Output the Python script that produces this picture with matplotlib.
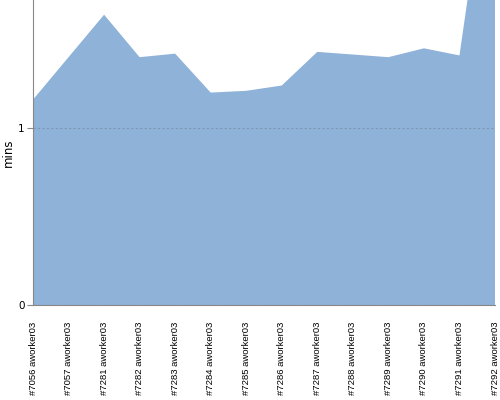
import matplotlib
matplotlib.use("Agg")
import matplotlib.pyplot as plt
import numpy as np

builds = ["#7056 aworker03", "#7057 aworker03", "#7281 aworker03", "#7282 aworker03",
          "#7283 aworker03", "#7284 aworker03", "#7285 aworker03", "#7286 aworker03",
          "#7287 aworker03", "#7288 aworker03", "#7289 aworker03", "#7290 aworker03",
          "#7291 aworker03", "#7292 aworker03"]
mins = [1.16, 1.40, 1.64, 1.40, 1.42, 1.20, 1.21, 1.24,
        1.43, 1.415, 1.40, 1.45, 1.41, 2.8]

fig = plt.figure(figsize=(5, 4), dpi=100)
ax = fig.add_axes([0.066, 0.2375, 0.924, 0.7625])

x = np.arange(len(builds))
ax.fill_between(x, 0, mins, color="#8fb2d9", linewidth=0)

ax.set_xlim(0, len(builds) - 1)
ax.set_ylim(0, 1.723)
ax.set_yticks([0, 1])
ax.set_yticklabels(["0", "1"], fontsize=7.5)
ax.yaxis.grid(True, linestyle=(0, (2, 2)), color="#7f95b5", linewidth=0.8)
ax.set_axisbelow(False)

ax.set_xticks(x)
ax.set_xticklabels(builds, rotation=90, fontsize=6.8, family="Liberation Sans")
ax.tick_params(axis="x", length=0, pad=12)
ax.tick_params(axis="y", length=4, color="#888888", pad=2)

ax.spines["top"].set_visible(False)
ax.spines["right"].set_visible(False)
ax.spines["left"].set_color("#888888")
ax.spines["bottom"].set_color("#888888")

ax.set_ylabel("mins", fontsize=8.5, labelpad=2)

fig.savefig("out.png", dpi=100)
